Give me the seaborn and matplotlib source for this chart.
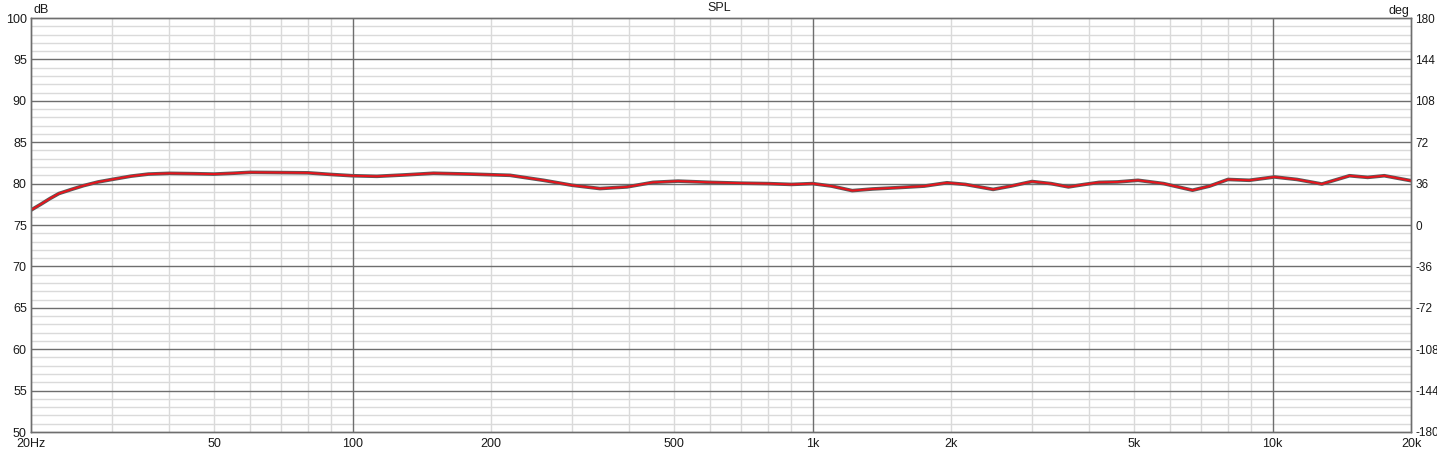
import numpy as np
import pandas as pd
import seaborn as sns
import matplotlib.pyplot as plt
from matplotlib.ticker import FixedLocator, NullFormatter

# SPL trace (Hz, dB)
freq_hz = [20, 21, 22, 23, 24.5, 26, 28, 30, 33, 36, 40, 45, 50, 55, 60, 70,
           80, 90, 100, 113, 130, 150, 180, 220, 260, 300, 345, 395, 450, 510,
           600, 700, 800, 900, 1000, 1100, 1220, 1350, 1520, 1750, 1960, 2150,
           2470, 2700, 3000, 3300, 3600, 3900, 4200, 4600, 5100, 5800, 6700,
           7300, 8000, 8900, 10100, 11300, 12800, 14700, 16100, 17500, 20000]
spl_db = [76.8, 77.5, 78.2, 78.8, 79.3, 79.75, 80.2, 80.5, 80.9, 81.15, 81.24,
          81.2, 81.15, 81.25, 81.36, 81.33, 81.3, 81.1, 80.95, 80.88, 81.05,
          81.25, 81.15, 81.0, 80.4, 79.8, 79.4, 79.6, 80.15, 80.3, 80.15,
          80.05, 80.0, 79.9, 80.0, 79.7, 79.15, 79.35, 79.5, 79.7, 80.1, 79.9,
          79.3, 79.7, 80.25, 80.0, 79.6, 79.9, 80.15, 80.2, 80.4, 80.0, 79.2,
          79.7, 80.5, 80.4, 80.8, 80.5, 79.95, 80.95, 80.75, 80.95, 80.35]

x_ticks = [20, 50, 100, 200, 500, 1000, 2000, 5000, 10000, 20000]
x_labels = ["20Hz", "50", "100", "200", "500", "1k", "2k", "5k", "10k", "20k"]
db_ticks = list(range(50, 101, 5))
deg_ticks = list(range(-180, 181, 36))

sns.set_theme(style="white")
plt.rcParams["font.family"] = ["Liberation Sans", "DejaVu Sans"]

fig = plt.figure(figsize=(14.37, 4.49), dpi=100)
ax = fig.add_axes([31 / 1437, 17 / 449, 1380 / 1437, 414 / 449])

minor_col = "#dadada"
major_col = "#6e6e6e"
txt_col = "#1a1a1a"

# grid
minor_x = [m * d for d in (10, 100, 1000) for m in range(2, 10)]
for f in minor_x:
    if 20 < f < 20000:
        ax.axvline(f, color=minor_col, lw=1, zorder=1)
for y in range(51, 100):
    if y % 5:
        ax.axhline(y, color=minor_col, lw=1, zorder=1)
for y in range(55, 100, 5):
    ax.axhline(y, color=major_col, lw=1, zorder=2)
for f in (100, 1000, 10000):
    ax.axvline(f, color=major_col, lw=1, zorder=2)

df = pd.DataFrame({"freq": freq_hz, "spl": spl_db})
sns.lineplot(data=df, x="freq", y="spl", ax=ax, color="#5a5a5a", lw=2.6, zorder=3)
sns.lineplot(data=df, x="freq", y="spl", ax=ax, color="#e8141c", lw=1.4, zorder=4)

ax.set_xscale("log")
ax.set_xlim(20, 20000)
ax.set_ylim(50, 100)
ax.xaxis.set_major_locator(FixedLocator(x_ticks))
ax.xaxis.set_minor_formatter(NullFormatter())
ax.set_xticks(x_ticks)
ax.set_xticklabels(x_labels)
ax.set_yticks(db_ticks)
ax.set_yticklabels([str(v) for v in db_ticks])
ax.tick_params(axis="both", which="both", length=0, labelsize=9, colors=txt_col)
ax.tick_params(axis="y", pad=3)
ax.tick_params(axis="x", pad=4)
ax.set_xlabel("")
ax.set_ylabel("")

ax2 = ax.twinx()
ax2.set_ylim(-180, 180)
ax2.set_yticks(deg_ticks)
ax2.set_yticklabels([str(v) for v in deg_ticks])
ax2.tick_params(axis="y", length=0, labelsize=8.5, colors=txt_col, pad=3)
ax2.grid(False)

for a in (ax, ax2):
    for s in a.spines.values():
        s.set_color(major_col)
        s.set_linewidth(1)

fig.text(719 / 1437, 1 - 8 / 449, "SPL", ha="center", va="center", fontsize=9, color=txt_col)
fig.text(34 / 1437, 1 - 10 / 449, "dB", ha="left", va="center", fontsize=9, color=txt_col)
fig.text(1409 / 1437, 1 - 11 / 449, "deg", ha="right", va="center", fontsize=9, color=txt_col)

fig.savefig("out.png", dpi=100, facecolor="white")
